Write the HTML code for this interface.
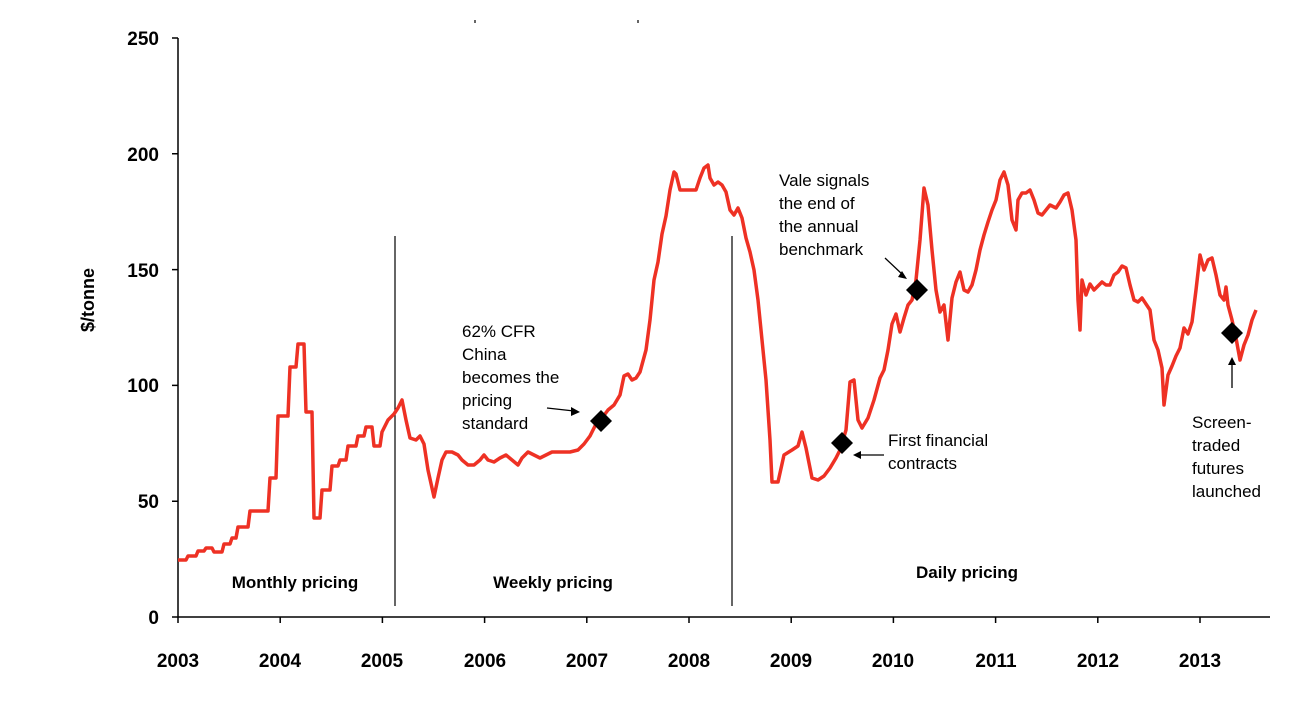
<!DOCTYPE html>
<html><head><meta charset="utf-8"><style>
body{margin:0;background:#fff;}
svg text{font-family:"Liberation Sans",Arial,sans-serif;}
</style></head><body>
<svg width="1304" height="698" xmlns="http://www.w3.org/2000/svg">
<rect width="1304" height="698" fill="#fff"/>
<g stroke="#000" stroke-width="1.5" fill="none">
<path d="M178,38V617H1270"/>
<path d="M172,38H178M172,153.8H178M172,269.6H178M172,385.4H178M172,501.2H178M172,617H178"/>
<path d="M178,617V623M280.2,617V623M382.4,617V623M484.6,617V623M586.8,617V623M689,617V623M791.2,617V623M893.4,617V623M995.6,617V623M1097.8,617V623M1200,617V623"/>
</g>
<g stroke="#000" stroke-width="1.2"><path d="M395,236V606M732,236V606"/><path d="M475,20v3M638,20v3"/></g>
<g font-size="19" font-weight="bold" text-anchor="end">
<text x="159" y="45">250</text><text x="159" y="161">200</text><text x="159" y="277">150</text>
<text x="159" y="392">100</text><text x="159" y="508">50</text><text x="159" y="624">0</text>
</g>
<g font-size="19" font-weight="bold" text-anchor="middle">
<text x="178" y="667">2003</text><text x="280" y="667">2004</text><text x="382" y="667">2005</text><text x="485" y="667">2006</text><text x="587" y="667">2007</text><text x="689" y="667">2008</text><text x="791" y="667">2009</text><text x="893" y="667">2010</text><text x="996" y="667">2011</text><text x="1098" y="667">2012</text><text x="1200" y="667">2013</text>
</g>
<text transform="translate(94,300) rotate(-90)" font-size="18" font-weight="bold" text-anchor="middle">$/tonne</text>
<g font-size="17" font-weight="bold" text-anchor="middle">
<text x="295" y="588">Monthly pricing</text><text x="553" y="588">Weekly pricing</text><text x="967" y="578">Daily pricing</text>
</g>
<polyline fill="none" stroke="#ee3124" stroke-width="3.5" stroke-linejoin="round" points="178,560 186,560 188,556 196,556 198,551 204,551 206,548 212,548 214,552 222,552 224,544 230,544 232,538 236,538 238,527 248,527 250,511 268,511 270,478 276,478 278,416 288,416 290,367 296,367 298,344 304,344 306,412 312,412 314,518 320,518 322,490 330,490 332,466 338,466 340,460 346,460 348,446 356,446 358,436 364,436 366,427 372,427 374,446 380,446 382,432 388,420 394,414 398,408 402,400 406,420 410,438 416,440 420,436 424,444 428,470 432,488 434,497 438,478 442,460 446,452 452,452 458,455 462,460 468,465 474,465 480,460 484,455 488,460 494,462 500,458 506,455 512,460 518,465 522,458 528,452 534,455 540,458 546,455 552,452 558,452 564,452 570,452 578,450 584,444 590,436 596,424 602,418 608,410 614,405 620,395 624,376 628,374 632,380 636,378 640,372 646,350 650,320 654,280 658,262 662,234 666,216 670,190 674,172 676,174 680,190 686,190 696,190 700,178 704,168 708,165 710,178 714,185 718,182 722,185 726,192 730,210 734,215 738,208 742,218 746,238 750,252 754,270 758,300 762,340 766,380 770,440 772,482 778,482 784,455 792,450 798,446 802,432 806,448 812,478 818,480 824,476 830,468 836,458 840,450 846,430 850,382 854,380 858,420 862,428 868,418 874,400 880,378 884,370 888,350 892,324 896,314 900,332 904,318 908,305 912,300 916,280 920,240 924,188 928,205 932,250 936,290 940,312 944,305 948,340 952,298 956,282 960,272 964,290 968,292 972,285 976,270 980,250 984,235 988,222 992,210 996,200 1000,180 1004,172 1008,185 1012,220 1016,230 1018,200 1022,193 1026,193 1030,190 1034,200 1038,213 1042,215 1046,210 1050,205 1056,208 1060,202 1064,195 1068,193 1072,210 1076,240 1078,300 1080,330 1082,280 1086,295 1090,284 1094,290 1098,286 1102,282 1106,285 1110,285 1114,275 1118,272 1122,266 1126,268 1130,285 1134,300 1138,302 1142,298 1146,304 1150,310 1154,340 1158,350 1162,368 1164,405 1168,375 1172,366 1176,356 1180,348 1184,328 1188,334 1192,322 1196,290 1200,255 1204,270 1208,260 1212,258 1216,275 1220,295 1224,300 1226,287 1228,305 1232,320 1236,338 1240,360 1244,345 1248,335 1252,320 1256,310"/>
<g fill="#000">
<path d="M601,410l11,11l-11,11l-11,-11z"/>
<path d="M842,432l11,11l-11,11l-11,-11z"/>
<path d="M917,279l11,11l-11,11l-11,-11z"/>
<path d="M1232,322l11,11l-11,11l-11,-11z"/>
</g>
<g stroke="#000" stroke-width="1.3" fill="none">
<path d="M547,408L574,411"/><path d="M884,455H858"/><path d="M885,258L903,275"/><path d="M1232,388V362"/>
</g>
<g fill="#000">
<path d="M580,412l-9,-5l0,9z"/><path d="M853,455l8,-4v8z"/><path d="M907,279l-9,-2l4,-6z"/><path d="M1232,357l-4,8h8z"/>
</g>
<g font-size="17">
<text x="462" y="337">62% CFR</text><text x="462" y="360">China</text><text x="462" y="383">becomes the</text><text x="462" y="406">pricing</text><text x="462" y="429">standard</text>
<text x="779" y="186">Vale signals</text><text x="779" y="209">the end of</text><text x="779" y="232">the annual</text><text x="779" y="255">benchmark</text>
<text x="888" y="446">First financial</text><text x="888" y="469">contracts</text>
<text x="1192" y="428">Screen-</text><text x="1192" y="451">traded</text><text x="1192" y="474">futures</text><text x="1192" y="497">launched</text>
</g>
</svg>
</body></html>
